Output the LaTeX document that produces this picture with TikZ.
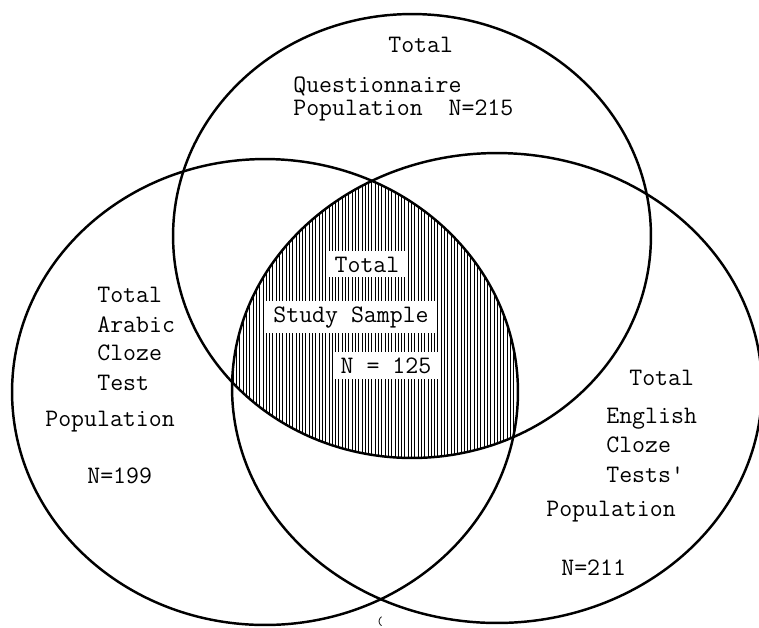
\documentclass[tikz,border=0pt]{standalone}
\usepackage{fontspec}
\usetikzlibrary{positioning}

\begin{document}
\begin{tikzpicture}[x=0.02cm, y=-0.02cm,
    txt/.style={font=\ttfamily\fontsize{14.3}{17}\selectfont, inner sep=0pt, anchor=base west},
    gap/.style={txt, anchor=base, fill=white, inner xsep=4pt, inner ysep=3pt},
    ring/.style={line width=1.4pt}]
  \useasboundingbox (0,0) rectangle (759,627);

  % hatched common part
  \begin{scope}
    \clip (412,236) ellipse [x radius=4.78cm, y radius=4.44cm];
    \clip (265,392) ellipse [x radius=5.06cm, y radius=4.66cm];
    \clip (497,388) ellipse [x radius=5.3cm, y radius=4.7cm];
    \foreach \x in {230,233.3,...,530}
      \draw[line width=0.5pt] (\x,170) -- (\x,470);
  \end{scope}

  % the three populations
  \draw[ring] (412,236) ellipse [x radius=4.78cm, y radius=4.44cm];
  \draw[ring] (265,392) ellipse [x radius=5.06cm, y radius=4.66cm];
  \draw[ring] (497,388) ellipse [x radius=5.3cm, y radius=4.7cm];

  % questionnaire
  \node[txt] (qtot)  at (388,52) {Total};
  \node[txt] (qname) at (293,92) {Questionnaire};
  \node[txt, below=0.46cm of qname.base west, anchor=base west] (qpop) {Population~~N=215};

  % arabic
  \node[txt] (atot) at (97,302) {Total};
  \node[txt, below=0.6cm of atot.base west, anchor=base west]   (aname)  {Arabic};
  \node[txt, below=0.56cm of aname.base west, anchor=base west] (acloze) {Cloze};
  \node[txt, below=0.6cm of acloze.base west, anchor=base west] (atest)  {Test};
  \node[txt] (apop) at (45,426) {Population};
  \node[txt] (an)   at (87,483) {N=199};

  % english
  \node[txt] (etot)  at (629,385) {Total};
  \node[txt] (ename) at (606,423) {English};
  \node[txt, below=0.58cm of ename.base west, anchor=base west]  (ecloze) {Cloze};
  \node[txt, below=0.6cm of ecloze.base west, anchor=base west]  (etest)  {Tests'};
  \node[txt] (epop) at (546,516) {Population};
  \node[txt] (en)   at (561,575) {N=211};

  % study sample
  \node[gap] (stot)  at (367,272) {Total};
  \node[gap] (sname) at (351,322) {Study Sample};
  \node[gap] (sn)    at (386,373) {N = 125};

  \node[font=\ttfamily\fontsize{7}{7}\selectfont, inner sep=0pt] (mark) at (380,622) {(};
\end{tikzpicture}
\end{document}
